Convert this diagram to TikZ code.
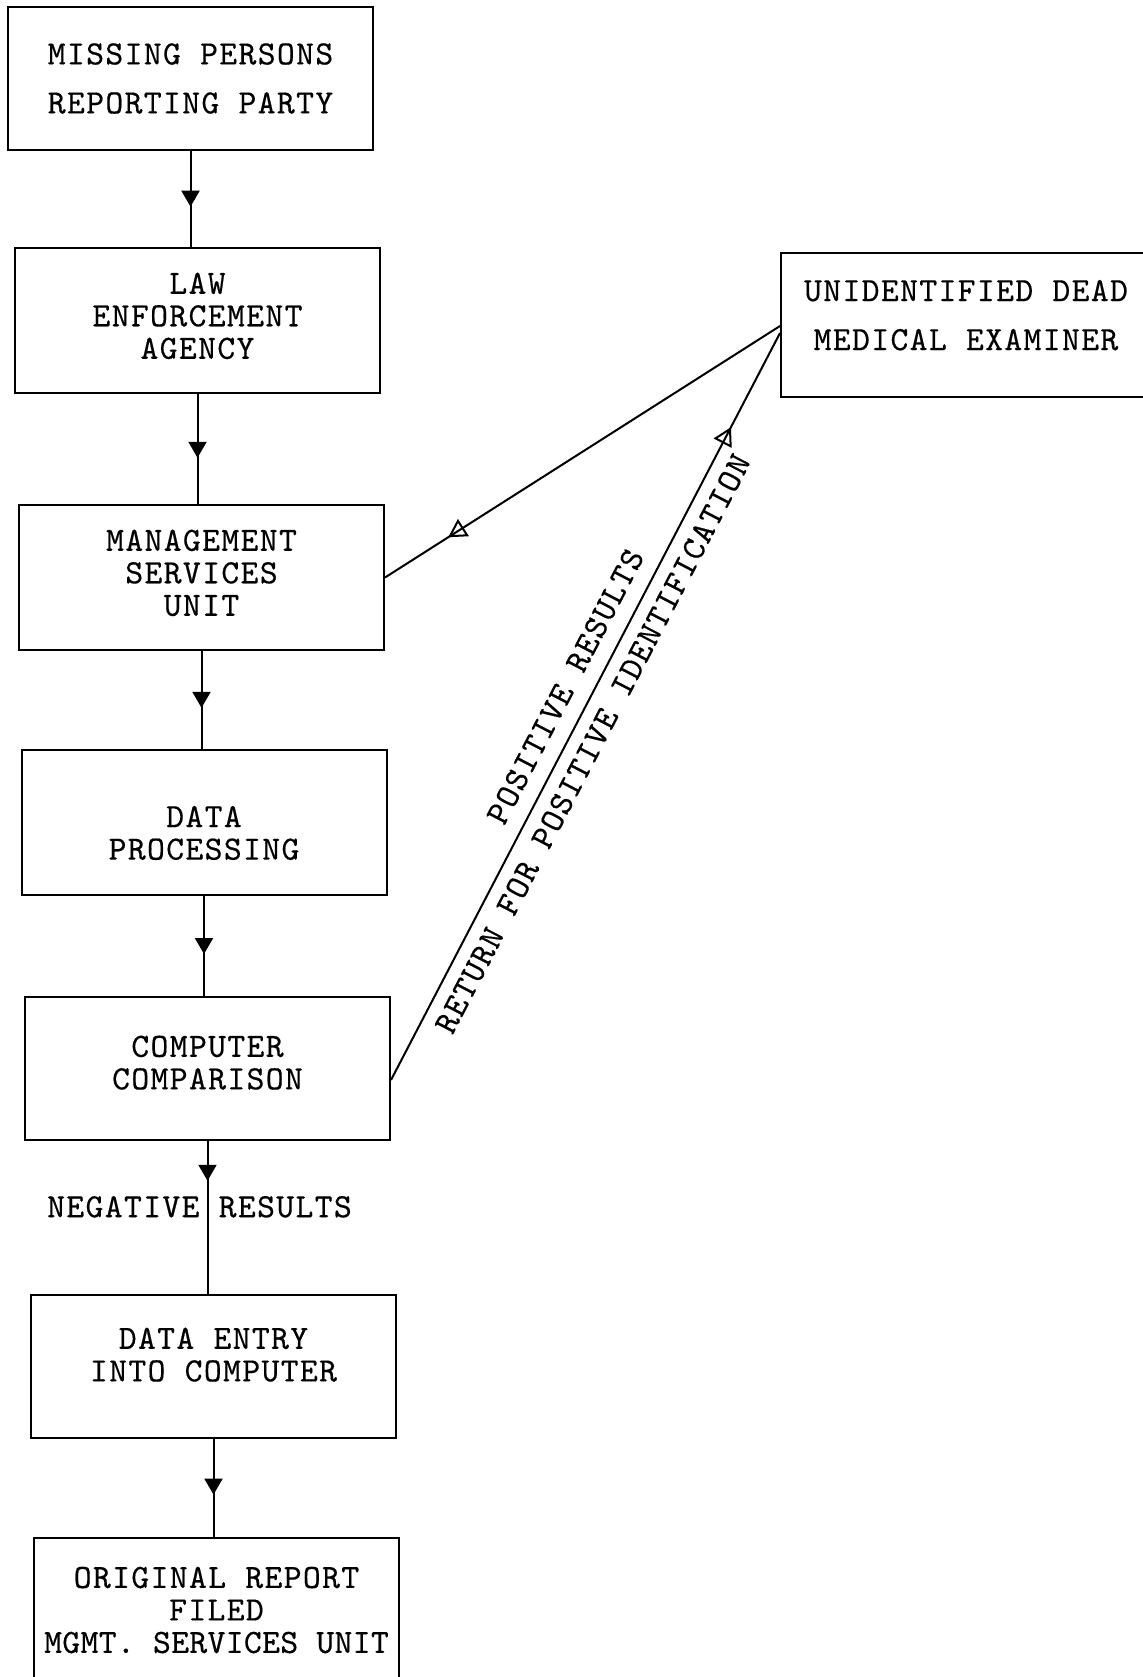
\documentclass[tikz,border=0pt]{standalone}
\usepackage{fontspec}
\usepackage{tikz}
\usetikzlibrary{shapes,arrows.meta,calc,decorations.markings}

\newfontfamily\twfont{lmmono10-regular.otf}[LetterSpace=4,FakeBold=0.4]
\newfontfamily\twtight{lmmono10-regular.otf}[LetterSpace=1,FakeBold=0.4]

\tikzset{
  stage/.style={draw, line width=1pt, minimum width=182.5pt, minimum height=72.5pt,
    align=center, inner sep=0pt, font={\twfont\fontsize{17}{16.25}\selectfont}},
  tag/.style={inner sep=0pt, font={\twfont\fontsize{17}{16.25}\selectfont}},
  flow/.style={line width=1pt, postaction={decorate}, decoration={markings,
    mark=at position #1 with {\arrow{Triangle[width=9pt,length=8pt]}}}},
  flow/.default=0.58,
  back/.style={line width=1pt, postaction={decorate}, decoration={markings,
    mark=at position #1 with {\arrow{Triangle[open,width=10pt,length=9pt]}}}}
}

\begin{document}
\begin{tikzpicture}[x=0.5pt,y=-0.5pt]
            \useasboundingbox (0,0) rectangle (1143,1677);
            \clip (0,0) rectangle (1143,1677);
            % left column
            \node[stage, minimum height=71.5pt] (report) at (190.5,78.5) {MISSING PERSONS\\[8.25pt]REPORTING PARTY};
            \node[stage, text depth=4.8pt] (agency) at (197.5,320.5) {LAW\\ENFORCEMENT\\AGENCY};
            \node[stage, text depth=4.8pt] (msu) at (201.5,577.5) {MANAGEMENT\\SERVICES\\UNIT};
            \node[stage, text height=37.3pt] (dp) at (204,822.5) {DATA\\PROCESSING};
            \node[stage, minimum height=71.5pt, text depth=6pt] (compare) at (207.5,1068.5) {COMPUTER\\COMPARISON};
            \node[stage, minimum height=71.5pt, text depth=12pt] (entry) at (213.5,1366.5) {DATA ENTRY\\INTO COMPUTER};
            \node[stage] (filed) at (216.5,1610) {ORIGINAL REPORT\\FILED\\{\twtight MGMT. SERVICES UNIT}};
            % right side
            \node[stage, minimum width=185pt, minimum height=72pt, text depth=10pt] (dead) at (966,325) {UNIDENTIFIED DEAD\\[8.25pt]MEDICAL EXAMINER};
            \draw[flow] (report.south) -- (report.south |- agency.north);
            \draw[flow] (agency.south) -- (agency.south |- msu.north);
            \draw[flow] (msu.south) -- (msu.south |- dp.north);
            \draw[flow] (dp.south) -- (dp.south |- compare.north);
            \draw[flow=0.26] (compare.south) -- (compare.south |- entry.north)
                node[tag, pos=0.43, xshift=-4pt] {NEGATIVE RESULTS};
            \draw[flow=0.57] (entry.south) -- (entry.south |- filed.north);
            \draw[back=0.84] ([yshift=-0.5pt]dead.west) -- (msu.east);
            \draw[back=0.874] ([yshift=-5.75pt]compare.east) -- ([yshift=-4pt]dead.west)
                node[tag, sloped, pos=0.51, above=7.7pt] {POSITIVE RESULTS}
                node[tag, sloped, pos=0.465, below=5.9pt] {RETURN FOR POSITIVE IDENTIFICATION};
        \end{tikzpicture}
\end{document}
